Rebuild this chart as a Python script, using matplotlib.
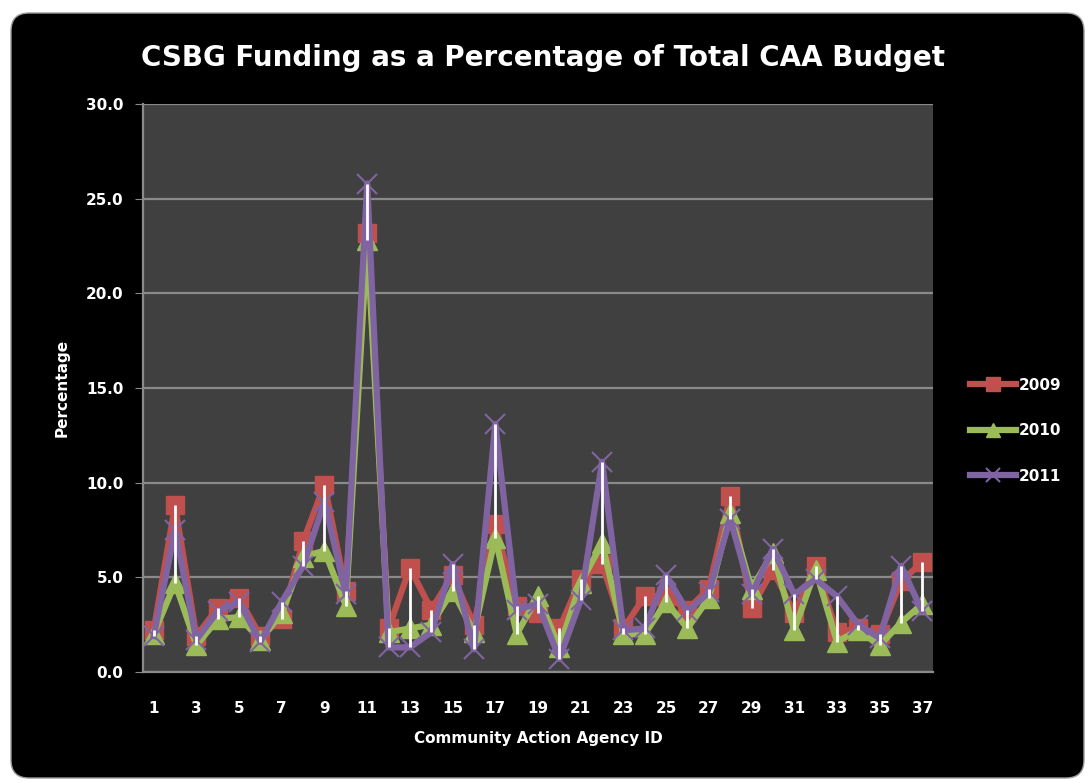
import matplotlib
matplotlib.use("Agg")
import matplotlib.pyplot as plt
from matplotlib.patches import FancyBboxPatch
import numpy as np

agency_ids = list(range(1, 38))
tick_labels = [str(i) for i in range(1, 38, 2)]
y_ticks = [0, 5, 10, 15, 20, 25, 30]

pct_2009 = [2.2, 8.8, 1.9, 3.4, 3.9, 1.9, 2.8, 6.9, 9.9, 4.3,
            23.2, 2.3, 5.5, 3.3, 5.1, 2.5, 7.8, 3.5, 3.1, 2.3,
            4.9, 5.7, 2.3, 4.0, 4.0, 3.3, 4.4, 9.3, 3.4, 5.4,
            3.1, 5.6, 2.1, 2.3, 2.0, 4.8, 5.8]
pct_2010 = [2.0, 4.7, 1.4, 2.8, 2.9, 1.7, 3.1, 6.1, 6.4, 3.5,
            22.8, 2.1, 2.3, 2.5, 4.3, 2.1, 7.1, 2.0, 4.0, 1.3,
            4.7, 6.8, 2.0, 2.0, 3.7, 2.3, 3.9, 8.4, 4.4, 6.3,
            2.2, 5.4, 1.6, 2.2, 1.4, 2.6, 3.6]
pct_2011 = [1.9, 7.5, 1.7, 3.2, 3.7, 1.6, 3.7, 5.6, 9.0, 4.1,
            25.8, 1.3, 1.3, 2.1, 5.7, 1.2, 13.1, 3.3, 3.6, 0.7,
            3.8, 11.1, 2.2, 2.3, 5.1, 3.2, 4.2, 8.1, 4.1, 6.5,
            4.1, 4.9, 4.0, 2.5, 1.8, 5.6, 3.2]

series = [("2009", pct_2009, "#C0504D", "s", 13),
          ("2010", pct_2010, "#9BBB59", "^", 14),
          ("2011", pct_2011, "#8064A2", "x", 14)]

W, H = 1088, 783
fig = plt.figure(figsize=(W / 100, H / 100), dpi=100)
fig.patch.set_facecolor("white")

bg_ax = fig.add_axes([0, 0, 1, 1], zorder=-5)
bg_ax.set_xlim(0, W)
bg_ax.set_ylim(H, 0)
bg_ax.axis("off")
bg_ax.add_patch(FancyBboxPatch((11, 13), 1073, 765,
                               boxstyle="round,pad=0,rounding_size=18",
                               facecolor="black", edgecolor="#9a9a9a",
                               linewidth=1.0))

ax = fig.add_axes([143 / W, 1 - 672 / H, (933 - 143) / W, (672 - 104) / H])
ax.set_facecolor("#404040")
ax.set_xlim(0.5, 37.5)
ax.set_ylim(0, 30)

for y in y_ticks:
    ax.axhline(y, color="#8a8a8a", lw=1.6, zorder=1)

x = np.array(agency_ids)
for name, vals, col, mk, ms in series:
    if mk == "x":
        ax.plot(x, vals, color=col, lw=4.5, marker=mk, ms=ms, mew=1.5,
                mec=col, label=name, zorder=4)
    else:
        ax.plot(x, vals, color=col, lw=4.5, marker=mk, ms=ms, mec=col,
                label=name, zorder=3)

arr = np.array([pct_2009, pct_2010, pct_2011])
ax.vlines(x, arr.min(axis=0), arr.max(axis=0), color="white", lw=2, zorder=5)

ax.set_yticks(y_ticks)
ax.set_yticklabels([f"{v:.1f}" for v in y_ticks], color="white",
                   fontsize=11, fontweight="bold")
ax.set_xticks(range(1, 38, 2))
ax.set_xticklabels(tick_labels, color="white", fontsize=11, fontweight="bold")
ax.tick_params(axis="y", length=6, color="#8a8a8a", pad=8)
ax.tick_params(axis="x", length=0, pad=21)
for s in ["top", "right"]:
    ax.spines[s].set_visible(False)
for s in ["left", "bottom"]:
    ax.spines[s].set_color("#8a8a8a")
    ax.spines[s].set_linewidth(1.6)

ax.set_ylabel("Percentage", color="white", fontsize=11, fontweight="bold",
              labelpad=12)
ax.set_xlabel("Community Action Agency ID", color="white", fontsize=11,
              fontweight="bold", labelpad=11)

fig.text(543 / W, 1 - 58 / H, "CSBG Funding as a Percentage of Total CAA Budget",
         color="white", fontsize=20, fontweight="bold", ha="center", va="center")

leg = ax.legend(loc="center left", bbox_to_anchor=(1.03, 0.425), frameon=False,
                labelcolor="white", prop={"weight": "bold", "size": 11},
                handlelength=3.0, labelspacing=2.0, handletextpad=0.15,
                markerscale=0.75)

fig.savefig("out.png", dpi=100, facecolor=fig.get_facecolor())
